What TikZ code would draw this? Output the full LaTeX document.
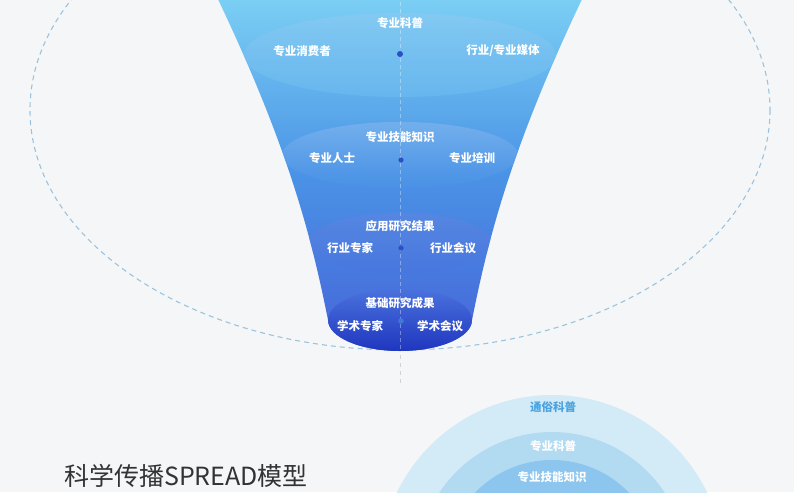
\documentclass[tikz,border=0pt]{standalone}
\usepackage{fontspec}
\setmainfont{Noto Sans CJK SC}
\usepackage{tikz}
\usetikzlibrary{positioning}

\definecolor{bgGrey}{HTML}{F5F6F7}
\definecolor{ringLine}{HTML}{9CC3DE}
\definecolor{funTop}{HTML}{7CD0F4}
\definecolor{funMid}{HTML}{4A93E6}
\definecolor{funBot}{HTML}{4664D8}
\definecolor{discTop}{HTML}{4A72DE}
\definecolor{discBot}{HTML}{1F36BE}
\definecolor{dotBlue}{HTML}{2C4FC4}
\definecolor{titleGrey}{HTML}{333333}
\definecolor{ringA}{HTML}{D3EBF7}
\definecolor{ringB}{HTML}{B2DBF2}
\definecolor{ringC}{HTML}{8CC5EE}
\definecolor{ringText}{HTML}{4AA3E0}

\tikzset{
  lbl/.style={text=white, font=\bfseries\fontsize{11.5}{12}\selectfont, inner sep=0pt},
  ringlbl/.style={font=\bfseries\fontsize{11.5}{12}\selectfont, inner sep=0pt},
  layer/.style={shade, top color=white!35!#1, bottom color=#1, opacity=0.55},
  centredot/.style={fill=dotBlue, draw=none}
}

\begin{document}
\begin{tikzpicture}[x=1pt, y=-1pt]
  \useasboundingbox (0,0) rectangle (794,492);
  \clip (0,0) rectangle (794,492);
  \fill[bgGrey] (0,0) rectangle (794,492);

  % Dashed orbit behind the funnel
  \draw[ringLine, line width=1.1pt, dash pattern=on 5pt off 4pt] (400,110) ellipse [x radius=370, y radius=240];

  % centre axis below the funnel
  \coordinate (axisTop) at (400,-5);
  \coordinate (axisEnd) at (400,385);
  \draw[gray!35, line width=0.8pt, dash pattern=on 4pt off 4pt] (axisTop) -- (axisEnd);

  % The funnel body
  \path[shade, top color=funTop, bottom color=funBot, middle color=funMid]
    (216,-5) .. controls (290,150) and (312,240) .. (328,320)
    arc[start angle=180, end angle=0, x radius=72, y radius=31]
    .. controls (488,240) and (510,150) .. (584,-5) -- cycle;

  % Layers inside the funnel
  \begin{scope}
    \clip (216,-5) .. controls (290,150) and (312,240) .. (328,320)
      arc[start angle=180, end angle=0, x radius=72, y radius=31]
      .. controls (488,240) and (510,150) .. (584,-5) -- cycle;
    \path[layer=funTop!70!funMid] (400,55) ellipse [x radius=156, y radius=42];
    \path[layer=funMid] (400,155) ellipse [x radius=118, y radius=33];
    \path[layer=funMid!40!funBot] (400,243) ellipse [x radius=92, y radius=30];
  \end{scope}

  % Bottom disc
  \path[shade, top color=discTop, bottom color=discBot] (400,320) ellipse [x radius=72, y radius=31];

  % axis through the funnel
  \draw[white, opacity=0.35, line width=0.6pt, dash pattern=on 4pt off 3pt] (400,2) -- (400,350);

  % Dots on the axis
  \fill[centredot] (400,54) circle (3);
  \fill[centredot] (401,160) circle (2.6);
  \fill[centredot] (401,248) circle (2.6);
  \fill[centredot, fill=dotBlue!40!funMid] (401,321) circle (2.8);

  % Layer 1
  \node[lbl] (popPro) at (400,23) {专业科普};
  \node[lbl] (consumer) at (302,51) {专业消费者};
  \node[lbl] (media) at (503,51) {行业/专业媒体};

  % Layer 2
  \node[lbl] (skill) at (400,137) {专业技能知识};
  \node[lbl] (expertP) at (332,158) {专业人士};
  \node[lbl] (training) at (472,158) {专业培训};

  % Layer 3
  \node[lbl] (applied) at (400,226) {应用研究结果};
  \node[lbl] (indExpert) at (350,248) {行业专家};
  \node[lbl] (indMeet) at (453,248) {行业会议};

  % Layer 4
  \node[lbl] (basic) at (400,303) {基础研究成果};
  \node[lbl] (acaExpert) at (360,326) {学术专家};
  \node[lbl] (acaMeet) at (440,326) {学术会议};

  % Rings at the bottom right
  \fill[ringA] (552,567) circle (172);
  \fill[ringB] (552,567) circle (135);
  \fill[ringC] (552,567) circle (107);
  \node[ringlbl, text=ringText] (popular) at (553,407) {通俗科普};
  \node[ringlbl, text=white] (ringPro) at (553,446) {专业科普};
  \node[ringlbl, text=white] (ringSkill) at (552,477) {专业技能知识};

  % Title
  \node[text=titleGrey, font=\fontsize{25}{28}\selectfont, anchor=west, inner sep=0pt] (title) at (64,476) {科学传播SPREAD模型};
\end{tikzpicture}
\end{document}
